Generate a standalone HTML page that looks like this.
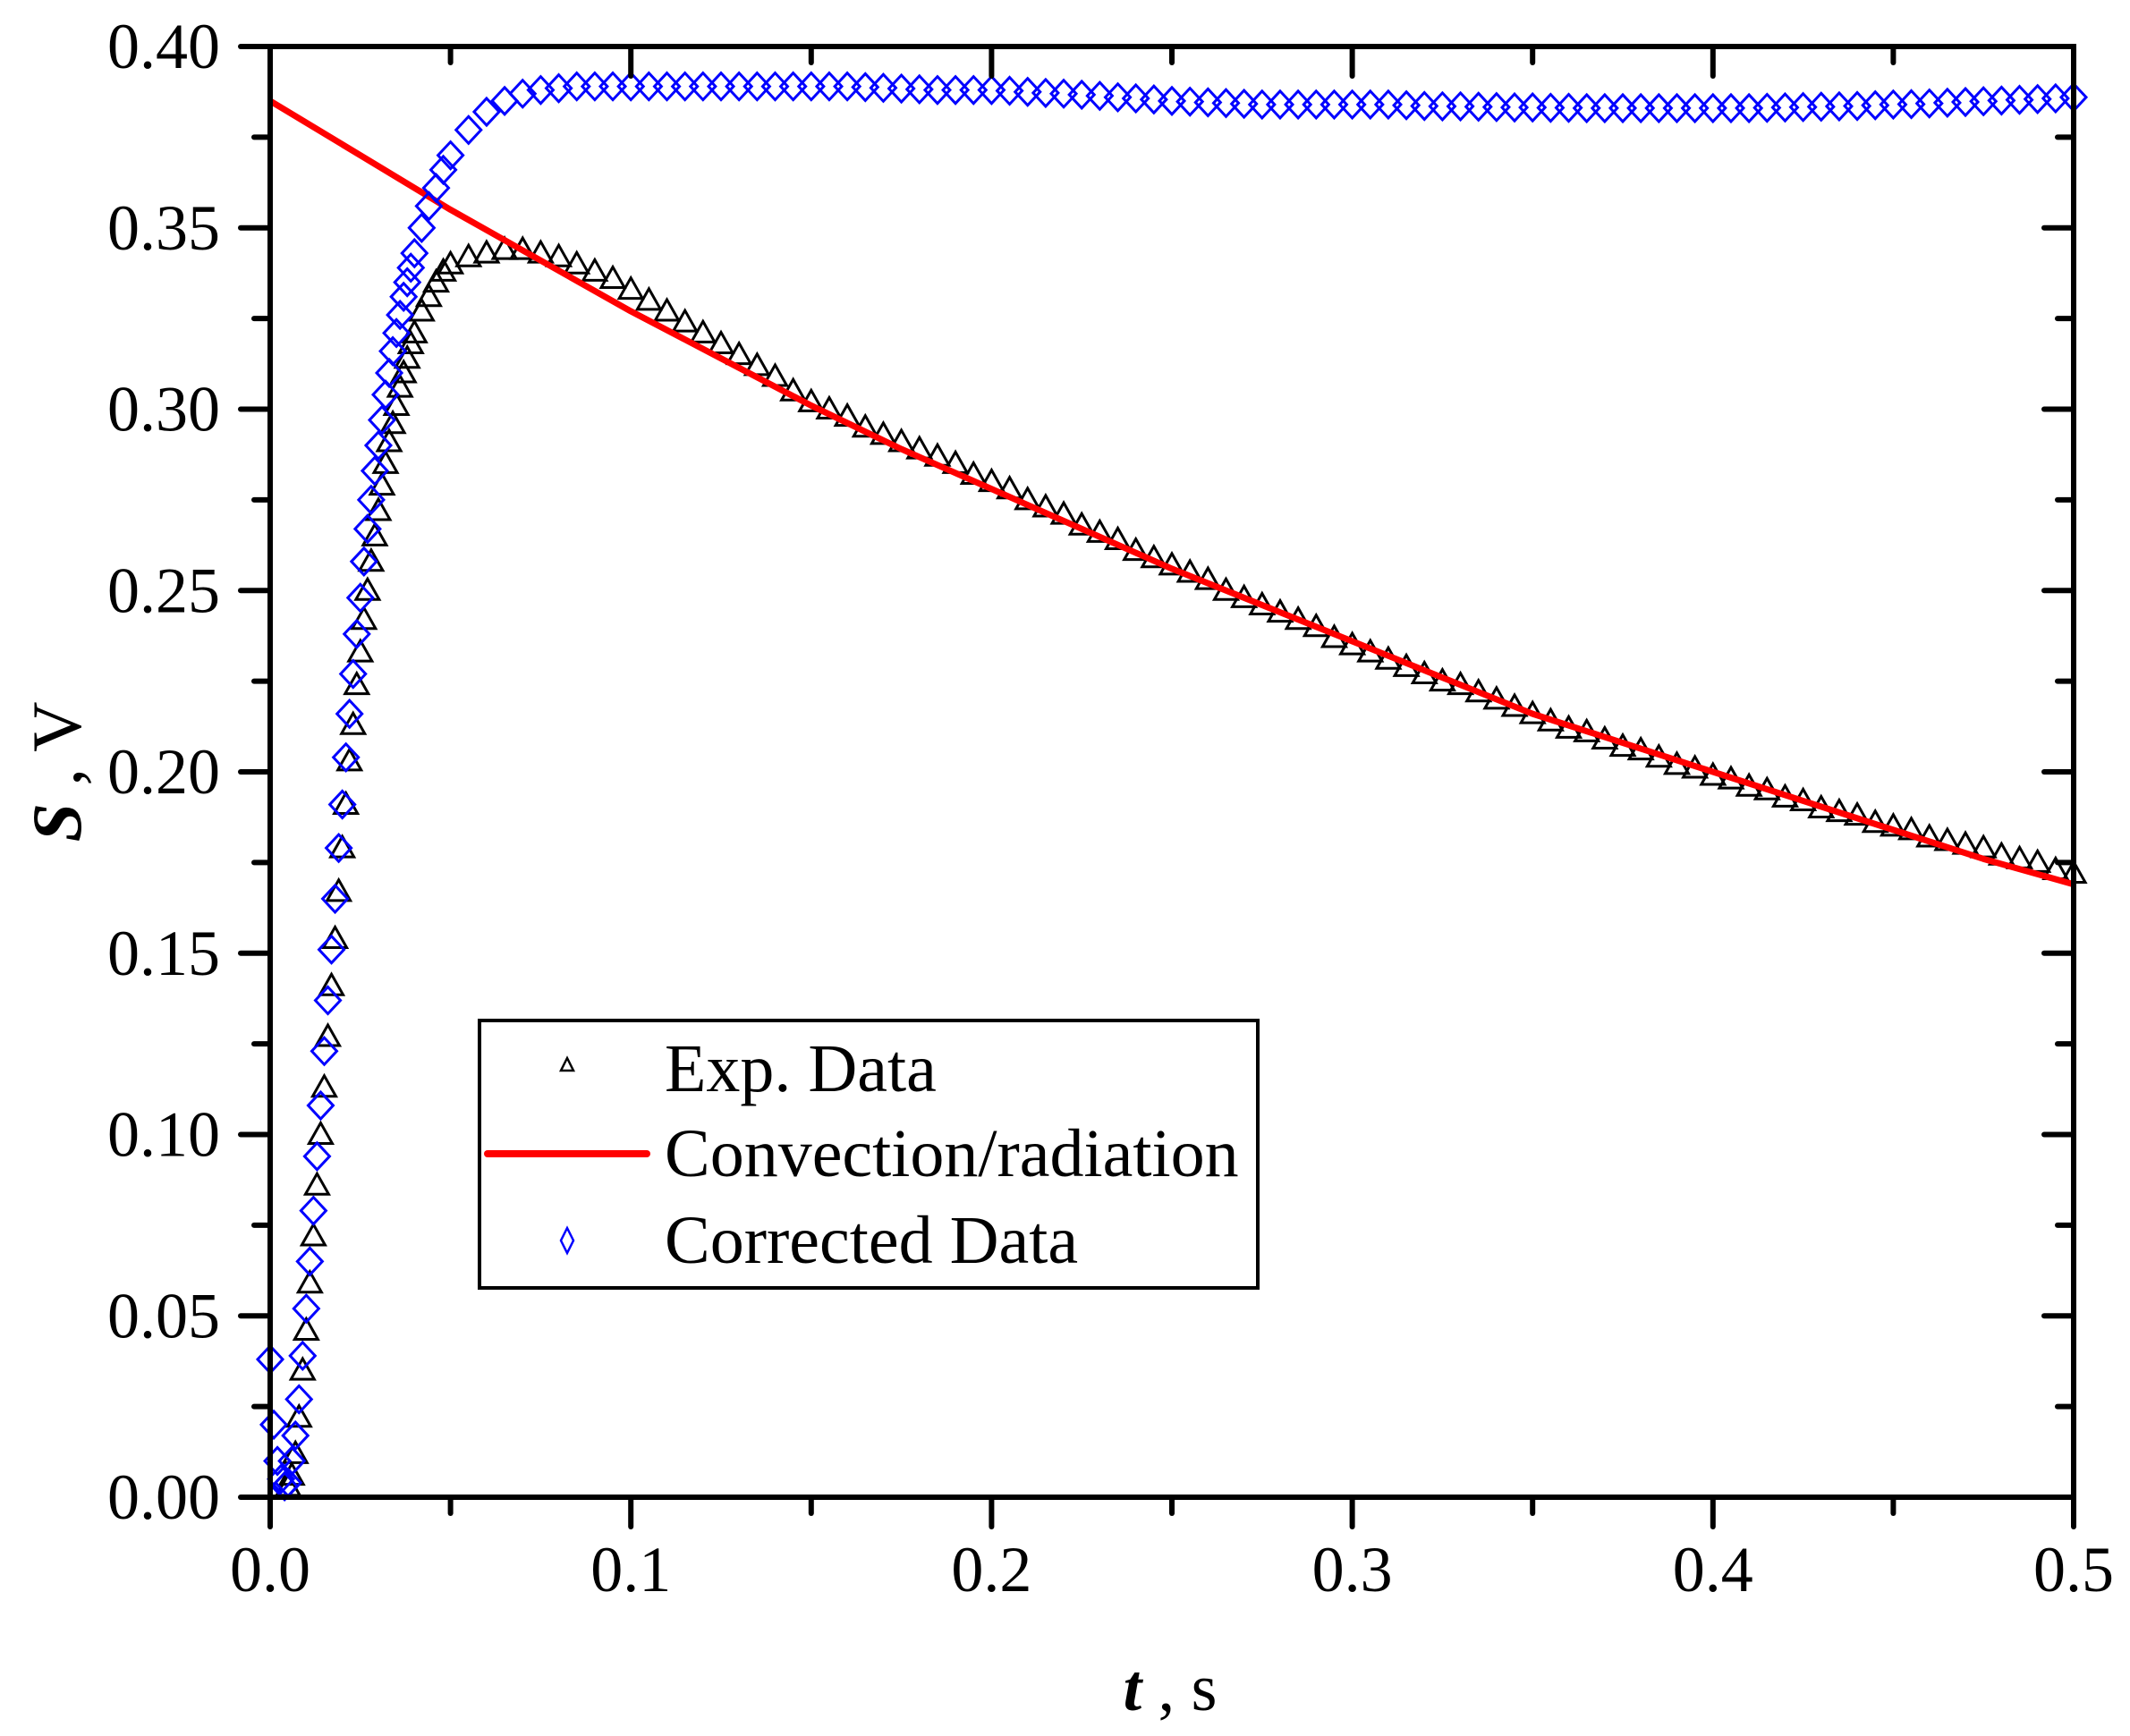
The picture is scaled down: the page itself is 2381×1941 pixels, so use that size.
<!DOCTYPE html>
<html><head><meta charset="utf-8">
<style>
html,body{margin:0;padding:0;background:#fff;}
svg{display:block;}
text{font-family:"Liberation Serif",serif;fill:#000;}
</style></head>
<body>
<svg id="chart" width="2381" height="1941" viewBox="0 0 2381 1941" xmlns="http://www.w3.org/2000/svg">
<g id="marks"></g>
<g id="axes"></g>
<text x="1308" y="1912" text-anchor="middle" font-size="74"><tspan font-weight="bold" font-style="italic">t</tspan> , s</text>
<text transform="translate(90,863) rotate(-90)" text-anchor="middle" font-size="78"><tspan font-weight="bold" font-style="italic">S</tspan> , V</text>
<g>
<rect x="536" y="1141" width="870" height="299" fill="#fff" stroke="#000" stroke-width="4"/>
<polygon points="634,1183 627,1197 641,1197" fill="none" stroke="#000" stroke-width="2.5"/>
<text x="743" y="1220" font-size="76">Exp. Data</text>
<line x1="545" y1="1290" x2="723" y2="1290" stroke="#ff0000" stroke-width="8" stroke-linecap="round"/>
<text x="743" y="1315" font-size="76">Convection/radiation</text>
<polygon points="634,1373 641,1387 634,1401 627,1387" fill="none" stroke="#0000ff" stroke-width="2.5"/>
<text x="743" y="1412" font-size="76">Corrected Data</text>
</g>
</svg>
<script>
const xTicks=[0.0,0.1,0.2,0.3,0.4,0.5];
const xTickLabels=["0.0","0.1","0.2","0.3","0.4","0.5"];
const yTicks=[0,0.05,0.10,0.15,0.20,0.25,0.30,0.35,0.40];
const yTickLabels=["0.00","0.05","0.10","0.15","0.20","0.25","0.30","0.35","0.40"];

const expT=[0.005,0.006,0.007,0.008,0.009,0.010,0.011,0.012,0.013,0.014,0.015,0.016,0.017,0.018,0.019,0.020,0.021,0.022,0.023,0.024,0.025,0.026,0.027,0.028,0.029,0.030,0.031,0.032,0.033,0.034,0.035,0.036,0.037,0.038,0.039,0.040,0.042,0.044,0.046,0.048,
0.050,0.055,0.060,0.065,0.070,0.075,0.080,0.085,0.090,0.095,0.100,
0.105,0.110,0.115,0.120,0.125,0.130,0.135,0.140,0.145,0.150,
0.155,0.160,0.165,0.170,0.175,0.180,0.185,0.190,0.195,0.200,
0.205,0.210,0.215,0.220,0.225,0.230,0.235,0.240,0.245,0.250,
0.255,0.260,0.265,0.270,0.275,0.280,0.285,0.290,0.295,0.300,
0.305,0.310,0.315,0.320,0.325,0.330,0.335,0.340,0.345,0.350,
0.355,0.360,0.365,0.370,0.375,0.380,0.385,0.390,0.395,0.400,
0.405,0.410,0.415,0.420,0.425,0.430,0.435,0.440,0.445,0.450,
0.455,0.460,0.465,0.470,0.475,0.480,0.485,0.490,0.495,0.500];
const expS=[0.003,0.006,0.012,0.022,0.035,0.046,0.059,0.072,0.086,0.100,0.113,0.127,0.141,0.154,0.167,0.179,0.191,0.203,0.213,0.224,0.233,0.242,0.250,0.258,0.265,0.272,0.279,0.285,0.291,0.296,0.301,0.306,0.310,0.314,0.318,0.321,0.327,0.331,0.335,0.338,
0.340,0.342,0.343,0.344,0.344,0.343,0.342,0.340,0.338,0.336,0.333,
0.330,0.327,0.324,0.321,0.318,0.315,0.312,0.309,0.305,0.302,
0.300,0.298,0.295,0.293,0.291,0.289,0.287,0.285,0.282,0.280,
0.278,0.275,0.273,0.271,0.268,0.266,0.264,0.261,0.259,0.257,
0.255,0.253,0.250,0.248,0.246,0.244,0.242,0.240,0.237,0.235,
0.233,0.231,0.229,0.227,0.225,0.224,0.222,0.220,0.218,0.216,
0.214,0.212,0.211,0.209,0.207,0.206,0.204,0.202,0.201,0.199,
0.198,0.196,0.195,0.193,0.192,0.190,0.189,0.188,0.186,0.185,
0.184,0.182,0.181,0.180,0.179,0.177,0.176,0.175,0.173,0.172];

const fitT=[0,0.025,0.05,0.075,0.1,0.125,0.15,0.175,0.2,0.225,0.25,0.275,0.3,0.325,0.35,0.375,0.4,0.425,0.45,0.475,0.5];
const fitS=[0.385,0.370,0.355,0.341,0.327,0.314,0.301,0.289,0.278,0.267,0.256,0.246,0.236,0.226,0.216,0.208,0.200,0.192,0.184,0.176,0.169];

const corT=[0.000,0.001,0.002,0.003,0.004,0.005,0.006,0.007,0.008,0.009,0.010,0.011,0.012,0.013,0.014,0.015,0.016,0.017,0.018,0.019,0.020,0.021,0.022,0.023,0.024,0.025,0.026,0.027,0.028,0.029,0.030,0.031,0.032,0.033,0.034,0.035,0.036,0.037,0.038,0.039,0.040,0.042,0.044,0.046,0.048,
0.050,0.055,0.060,0.065,0.070,0.075,0.080,0.085,0.090,0.095,0.100,
0.105,0.110,0.115,0.120,0.125,0.130,0.135,0.140,0.145,0.150,
0.155,0.160,0.165,0.170,0.175,0.180,0.185,0.190,0.195,0.200,
0.205,0.210,0.215,0.220,0.225,0.230,0.235,0.240,0.245,0.250,
0.255,0.260,0.265,0.270,0.275,0.280,0.285,0.290,0.295,0.300,
0.305,0.310,0.315,0.320,0.325,0.330,0.335,0.340,0.345,0.350,
0.355,0.360,0.365,0.370,0.375,0.380,0.385,0.390,0.395,0.400,
0.405,0.410,0.415,0.420,0.425,0.430,0.435,0.440,0.445,0.450,
0.455,0.460,0.465,0.470,0.475,0.480,0.485,0.490,0.495,0.500];
const corS=[0.038,0.020,0.010,0.005,0.003,0.004,0.010,0.017,0.027,0.039,0.052,0.065,0.079,0.094,0.108,0.123,0.137,0.151,0.165,0.179,0.191,0.204,0.216,0.227,0.238,0.248,0.258,0.267,0.275,0.283,0.290,0.297,0.304,0.310,0.316,0.321,0.326,0.331,0.335,0.339,0.343,0.350,0.356,0.361,0.366,
0.370,0.377,0.382,0.385,0.387,0.388,0.3885,0.389,0.389,0.389,0.389,
0.389,0.389,0.389,0.389,0.389,0.389,0.389,0.389,0.389,0.389,
0.389,0.389,0.3888,0.3886,0.3884,0.3882,0.388,0.388,0.388,0.388,
0.3878,0.3875,0.3872,0.387,0.3867,0.3864,0.386,0.3857,0.3854,0.385,
0.3848,0.3846,0.3844,0.3842,0.384,0.384,0.384,0.384,0.384,0.384,
0.384,0.384,0.3838,0.3836,0.3835,0.3835,0.3834,0.3833,0.3832,0.3832,
0.3831,0.3831,0.383,0.383,0.383,0.383,0.383,0.383,0.383,0.383,
0.383,0.383,0.3831,0.3832,0.3833,0.3834,0.3835,0.3836,0.3838,0.384,
0.3841,0.3843,0.3845,0.3847,0.3849,0.3851,0.3853,0.3855,0.3857,0.386];

const NS="http://www.w3.org/2000/svg";
const L=302,R=2318,T=52,B=1674;
function X(t){return L+(t-0)/(0.5-0)*(R-L);}
function Y(v){return B-(v-0)/(0.4-0)*(B-T);}
function mk(tag,attrs,parent){const e=document.createElementNS(NS,tag);for(const k in attrs)e.setAttribute(k,attrs[k]);parent.appendChild(e);return e;}
const marks=document.getElementById('marks');
const axes=document.getElementById('axes');

const gExp=mk('g',{},marks);


for(let i=0;i<expT.length;i++){
  const cx=X(expT[i]),cy=Y(expS[i]);
  const p=mk('polygon',{points:`${cx},${cy-13} ${cx-13},${cy+10} ${cx+13},${cy+10}`,fill:'none',stroke:'#000','stroke-width':3},gExp);
  
  
}
const pl=mk('polyline',{points:fitT.map((t,i)=>X(t)+','+Y(fitS[i])).join(' '),fill:'none',stroke:'#ff0000','stroke-width':7,'stroke-linejoin':'round'},marks);


const gCor=mk('g',{},marks);


for(let i=0;i<corT.length;i++){
  const cx=X(corT[i]),cy=Y(corS[i]);
  const p=mk('polygon',{points:`${cx},${cy-15} ${cx+14},${cy} ${cx},${cy+15} ${cx-14},${cy}`,fill:'none',stroke:'#0000ff','stroke-width':3},gCor);
  
  
}
const fr=mk('rect',{x:L,y:T,width:R-L,height:B-T,fill:'none',stroke:'#000','stroke-width':6},axes);


for(let i=0;i<xTicks.length;i++){
  const x=X(xTicks[i]);
  const t1=mk('line',{x1:x,y1:B,x2:x,y2:B+33,stroke:'#000','stroke-width':6,'stroke-linecap':'round'},axes);
  
  
  const t2=mk('line',{x1:x,y1:T,x2:x,y2:T+33,stroke:'#000','stroke-width':6,'stroke-linecap':'round'},axes);
  
  
  const lb=mk('text',{x:x,y:1779,'text-anchor':'middle','font-size':72},axes);
  lb.textContent=xTickLabels[i];
  
  
  if(i<xTicks.length-1){
    const xm=X((xTicks[i]+xTicks[i+1])/2);
    const m1=mk('line',{x1:xm,y1:B,x2:xm,y2:B+18,stroke:'#000','stroke-width':6,'stroke-linecap':'round'},axes);
    
    
    const m2=mk('line',{x1:xm,y1:T,x2:xm,y2:T+18,stroke:'#000','stroke-width':6,'stroke-linecap':'round'},axes);
    
    
  }
}
for(let i=0;i<yTicks.length;i++){
  const y=Y(yTicks[i]);
  const t1=mk('line',{x1:L-33,y1:y,x2:L,y2:y,stroke:'#000','stroke-width':6,'stroke-linecap':'round'},axes);
  
  
  const t2=mk('line',{x1:R-33,y1:y,x2:R,y2:y,stroke:'#000','stroke-width':6,'stroke-linecap':'round'},axes);
  
  
  const lb=mk('text',{x:246,y:y+24,'text-anchor':'end','font-size':72},axes);
  lb.textContent=yTickLabels[i];
  
  
  if(i<yTicks.length-1){
    const ym=Y((yTicks[i]+yTicks[i+1])/2);
    const m1=mk('line',{x1:L-18,y1:ym,x2:L,y2:ym,stroke:'#000','stroke-width':6,'stroke-linecap':'round'},axes);
    
    
    const m2=mk('line',{x1:R-18,y1:ym,x2:R,y2:ym,stroke:'#000','stroke-width':6,'stroke-linecap':'round'},axes);
    
    
  }
}
</script>
</body></html>
